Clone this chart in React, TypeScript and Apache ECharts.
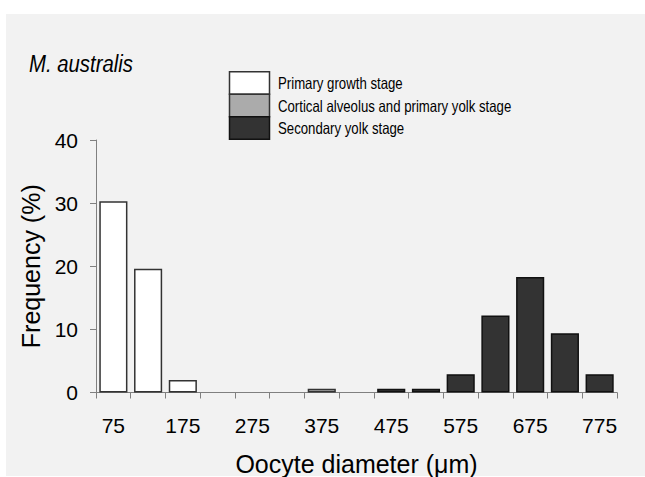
import React, { useEffect, useRef } from "react";
import * as echarts from "echarts";

const categories = ["75", "125", "175", "225", "275", "325", "375", "425", "475", "525", "575", "625", "675", "725", "775"];
const seriesNames = ["Primary growth stage", "Cortical alveolus and primary yolk stage", "Secondary yolk stage"];
const primaryGrowth = [30.3, 19.6, 2.0, null, null, null, null, null, null, null, null, null, null, null, null];
const corticalAlveolus = [null, null, null, null, null, null, 0.6, null, null, null, null, null, null, null, null];
const secondaryYolk = [null, null, null, null, null, null, null, null, 0.6, 0.6, 2.9, 12.2, 18.3, 9.4, 2.9];
const yTicks = [0, 10, 20, 30, 40];

const fills = ["#ffffff", "#ababab", "#333333"];
const borders = ["#333333", "#333333", "#111111"];

export default function App() {
  const ref = useRef<HTMLDivElement>(null);
  useEffect(() => {
    if (!ref.current) return;
    const chart = echarts.init(ref.current, null, { renderer: "svg" });
    const font = "'Liberation Sans', Arial, sans-serif";
    const legendGraphics: any[] = [];
    seriesNames.forEach((name, i) => {
      const top = 71.7 + i * 22.5;
      legendGraphics.push({
        type: "rect",
        shape: { x: 229.5, y: top, width: 40, height: 22.5 },
        style: { fill: fills[i], stroke: borders[i], lineWidth: 1.5 },
      });
      legendGraphics.push({
        type: "text",
        x: 278,
        y: top + 11.5,
        scaleX: 0.8,
        style: {
          text: name,
          fontSize: 16.5,
          fontFamily: font,
          fill: "#000",
          verticalAlign: "middle",
          align: "left",
        },
      });
    });
    chart.setOption({
      animation: false,
      backgroundColor: "#ffffff",
      graphic: [
        { type: "rect", z: -10, shape: { x: 6, y: 14, width: 639, height: 462 }, style: { fill: "#f2f2f2" } },
        {
          type: "text",
          x: 29,
          y: 64,
          scaleX: 0.83,
          style: {
            text: "M. australis",
            fontSize: 24.5,
            fontStyle: "italic",
            fontFamily: font,
            fill: "#000",
            verticalAlign: "middle",
            align: "left",
          },
        },
        ...legendGraphics,
      ],
      textStyle: { fontFamily: font },
      grid: { left: 96, right: 28, top: 140, bottom: 84.5, outerBoundsMode: "none", containLabel: false },
      xAxis: {
        type: "category",
        data: categories,
        name: "Oocyte diameter (μm)",
        nameLocation: "middle",
        nameGap: 59,
        nameTextStyle: { fontSize: 25, color: "#000", fontFamily: font },
        axisLine: { lineStyle: { color: "#808080", width: 1 } },
        axisTick: { show: true, length: 6, alignWithLabel: false, interval: 0, lineStyle: { color: "#808080" } },
        axisLabel: { interval: 1, fontSize: 21, color: "#000", margin: 22, fontFamily: font },
      },
      yAxis: {
        type: "value",
        min: 0,
        max: 40,
        interval: 10,
        name: "Frequency (%)",
        nameLocation: "middle",
        nameGap: 51,
        nameTextStyle: { fontSize: 25, color: "#000", fontFamily: font },
        axisLine: { show: true, lineStyle: { color: "#808080", width: 1 } },
        axisTick: { show: true, length: 6, lineStyle: { color: "#808080" } },
        axisLabel: { fontSize: 21, color: "#000", margin: 18, fontFamily: font, customValues: yTicks },
        splitLine: { show: false },
      },
      series: [
        {
          name: seriesNames[0],
          type: "bar",
          stack: "s",
          data: primaryGrowth,
          barCategoryGap: "19%",
          itemStyle: { color: fills[0], borderColor: borders[0], borderWidth: 1.5 },
        },
        {
          name: seriesNames[1],
          type: "bar",
          stack: "s",
          data: corticalAlveolus,
          itemStyle: { color: fills[1], borderColor: borders[1], borderWidth: 1.5 },
        },
        {
          name: seriesNames[2],
          type: "bar",
          stack: "s",
          data: secondaryYolk,
          itemStyle: { color: fills[2], borderColor: borders[2], borderWidth: 1.5 },
        },
      ],
    });
    return () => chart.dispose();
  }, []);
  return <div ref={ref} style={{ position: "fixed", left: 0, top: 0, width: 645, height: 477 }} />;
}
